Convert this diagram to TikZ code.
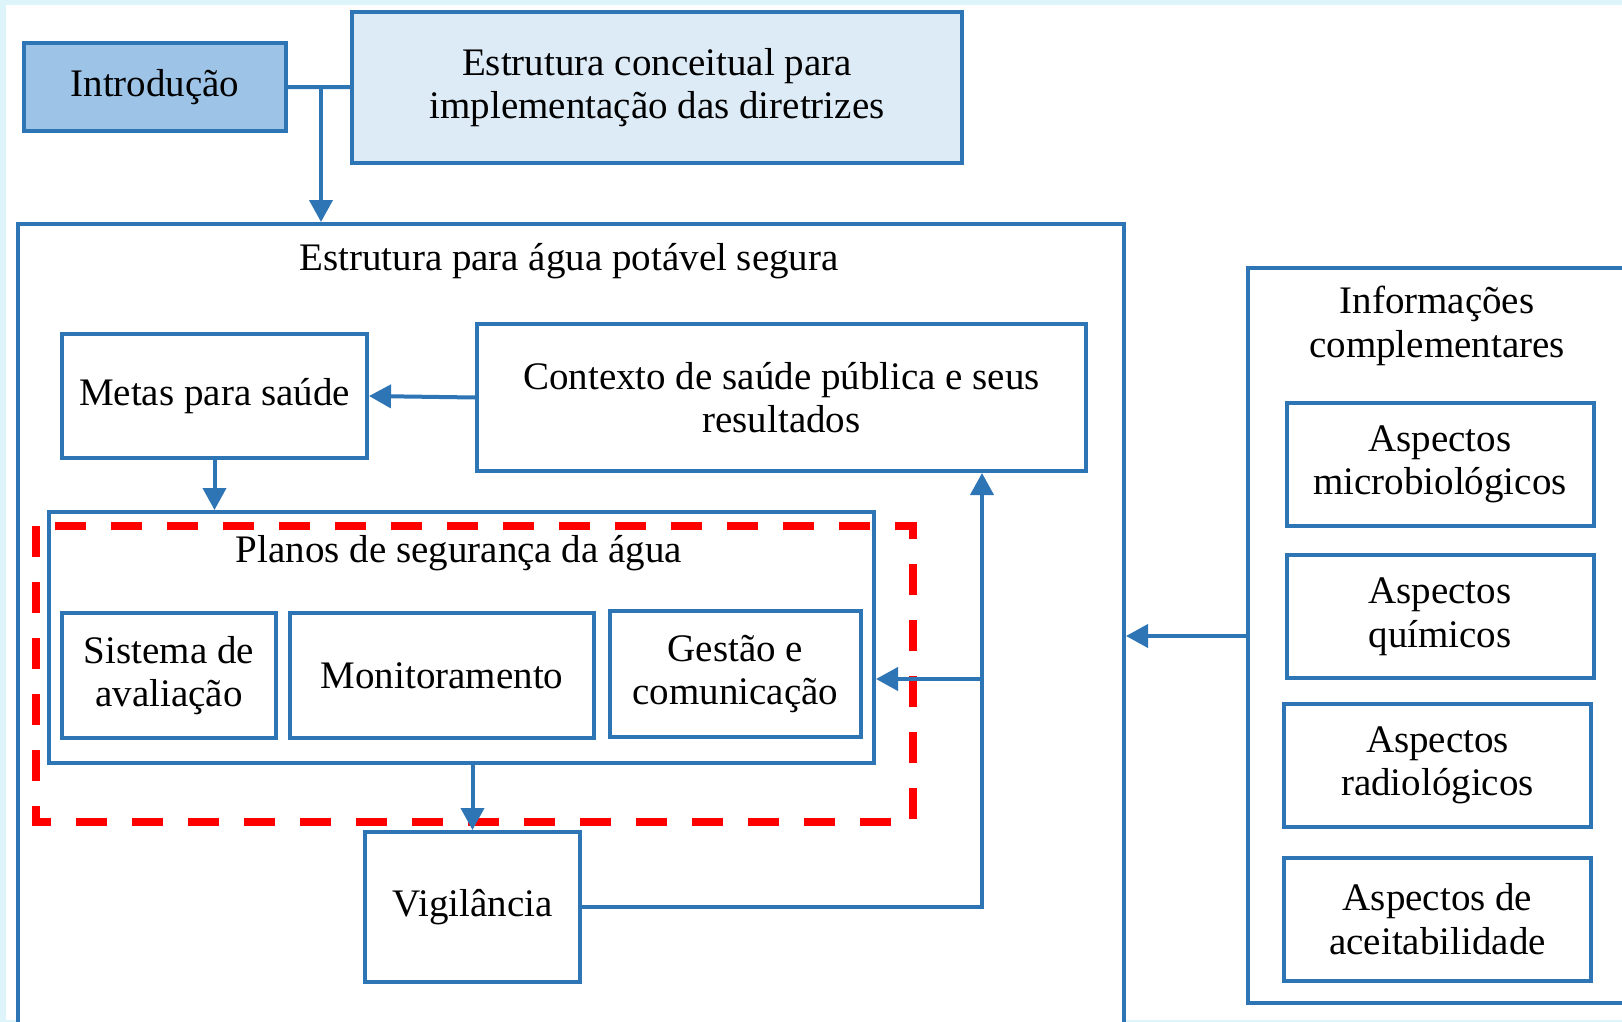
\documentclass[tikz,border=0pt]{standalone}
\usepackage{fontspec}
\setmainfont{Liberation Serif}
\usetikzlibrary{arrows.meta,positioning}

\definecolor{azul}{HTML}{2E75B6}
\definecolor{azulforte}{HTML}{9DC3E6}
\definecolor{azulclaro}{HTML}{DDEBF7}
\definecolor{fundo}{HTML}{DDF5FA}

\tikzset{
	caixa/.style={draw=azul, line width=2pt, fill=white, align=center, inner sep=0pt},
	linha/.style={draw=azul, line width=2pt},
	seta/.style={linha, -{Triangle[width=11.5pt,length=11pt]}},
	tracejado/.style={draw=red, line width=4pt, dash pattern=on 15.5pt off 12.5pt}
}

\begin{document}
\begin{tikzpicture}[x=0.5pt, y=-0.5pt, font=\fontsize{19.5}{21.8}\selectfont]

\path[use as bounding box, clip] (0,0) rectangle (1622,1022);
\fill[fundo] (0,0) rectangle (1622,1022);
\fill[white] (6,5) rectangle (1622,1020);

% Topo
\node[caixa, fill=azulforte, minimum width=131pt, minimum height=44pt] (intro) at (155,87) {Introdução};
\node[caixa, fill=azulclaro, minimum width=305pt, minimum height=75.5pt] (conceito) at (657,87.5)
	{Estrutura conceitual para\\implementação das diretrizes};

% Estrutura para agua potavel
\node[caixa, anchor=north west, minimum width=553pt, minimum height=409pt] (agua) at (16,222) {};
\node (tagua) at (569,261) {Estrutura para água potável segura};

\node[caixa, minimum width=152.5pt, minimum height=62pt] (metas) at (214.5,396) {Metas para saúde};
\node[caixa, minimum width=304.5pt, minimum height=73.5pt] (contexto) at (781.5,397.5)
	{Contexto de saúde pública e seus\\resultados};

\node[caixa, minimum width=412.5pt, minimum height=125.5pt] (planos) at (461.5,637.5) {};
\node (tplanos) at (459,553) {Planos de segurança da água};
\node[caixa, minimum width=107pt, minimum height=62.5pt] (sistema) at (169,675.5) {Sistema de\\avaliação};
\node[caixa, minimum width=152pt, minimum height=62.5pt] (monit) at (442,675.5) {Monitoramento};
\node[caixa, minimum width=125.5pt, minimum height=63pt] (gestao) at (735.5,674) {Gestão e\\comunicação};

\node[caixa, minimum width=107.5pt, minimum height=75pt] (vigil) at (472.5,907) {Vigilância};

% Informacoes complementares
\node[caixa, anchor=north west, minimum width=202pt, minimum height=367.5pt] (info) at (1246,266) {};
\node[align=center] (tinfo) at (1437,326) {Informações\\complementares};
\foreach \nome/\x/\y/\txt in {micro/1440/464.5/{Aspectos\\microbiológicos},
		quim/1440/616.5/{Aspectos\\químicos},
		radio/1437.5/765.5/{Aspectos\\radiológicos},
		aceit/1437.5/919/{Aspectos de\\aceitabilidade}}
	\node[caixa, minimum width=153.5pt, minimum height=61.5pt] (\nome) at (\x,\y) {\txt};

% Destaque
\draw[tracejado] (36,526) rectangle (913,822);

% Ligacoes
\coordinate (j) at (321,87);
\coordinate (ret) at (982,907);
\coordinate (b) at (982,679);
\coordinate (c) at (1246,636);

\draw[linha] (intro) -- (conceito);
\draw[seta] (j) -- (j |- agua.north);
\draw[seta] (contexto.west) -- (metas.east);
\draw[seta] (metas) -- (metas |- planos.north);
\draw[seta] (vigil |- planos.south) -- (vigil.north);
\draw[seta] (vigil.east) -- (ret) -- (ret |- contexto.south);
\draw[seta] (b) -- (b -| planos.east);
\draw[seta] (c) -- (c -| agua.east);

\end{tikzpicture}
\end{document}
